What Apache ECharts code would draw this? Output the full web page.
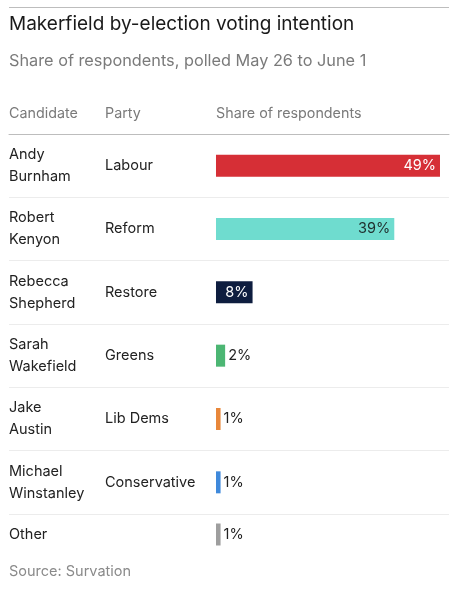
<!DOCTYPE html>
<html>
<head>
<meta charset="utf-8">
<script src="https://cdn.jsdelivr.net/npm/echarts@6/dist/echarts.min.js"></script>
<style>
html,body{margin:0;padding:0;background:#fff;}
#chart{width:458px;height:600px;}
</style>
</head>
<body>
<div id="chart"></div>
<script>
const candidates = ['Andy\nBurnham', 'Robert\nKenyon', 'Rebecca\nShepherd', 'Sarah\nWakefield', 'Jake\nAustin', 'Michael\nWinstanley', 'Other'];
const parties = ['Labour', 'Reform', 'Restore', 'Greens', 'Lib Dems', 'Conservative', ''];
const shares = [49, 39, 8, 2, 1, 1, 1];
const partyColors = ['#d62f36', '#6fdccf', '#0e1d3f', '#4cb673', '#e8873a', '#3f89db', '#9e9e9e'];
const labelColors = ['#ffffff', '#1f2d2d', '#ffffff', '#222222', '#222222', '#222222', '#222222'];
const columnHeaders = ['Candidate', 'Party', 'Share of respondents'];

const FONT = 'Inter';
const XMIN = -45.28, XMAX = 50.97;

function barData(start, end) {
  const out = [];
  for (let i = start; i < end; i++) {
    const big = shares[i] >= 5;
    out.push({
      value: shares[i],
      itemStyle: { color: partyColors[i] },
      label: {
        show: true,
        position: big ? 'insideRight' : 'right',
        distance: big ? 4 : 3,
        color: labelColors[i],
        fontSize: 14.5,
        fontFamily: FONT,
        formatter: '{c}%'
      }
    });
  }
  return out;
}

const nameLabel = { inside: true, margin: 0, align: 'left', color: '#222', fontSize: 14.5, lineHeight: 22, fontFamily: FONT };
const partyLabel = { inside: true, margin: 96, align: 'left', color: '#222', fontSize: 14.5, fontFamily: FONT };

const chart = echarts.init(document.getElementById('chart'));
chart.setOption({
  animation: false,
  backgroundColor: '#fff',
  title: [
    { text: 'Makerfield by-election voting intention', left: 9, top: 15, padding: 0,
      textStyle: { fontFamily: FONT, fontSize: 19, fontWeight: 'normal', color: '#1a1a1a' } },
    { text: 'Share of respondents, polled May 26 to June 1', left: 9, top: 53, padding: 0,
      textStyle: { fontFamily: FONT, fontSize: 16.3, fontWeight: 'normal', color: '#7a7a7a' } },
    { text: columnHeaders[0], left: 9, top: 107, padding: 0,
      textStyle: { fontFamily: FONT, fontSize: 14.3, fontWeight: 'normal', color: '#7a7a7a' } },
    { text: columnHeaders[1], left: 105, top: 107, padding: 0,
      textStyle: { fontFamily: FONT, fontSize: 14.3, fontWeight: 'normal', color: '#7a7a7a' } },
    { text: columnHeaders[2], left: 216, top: 107, padding: 0,
      textStyle: { fontFamily: FONT, fontSize: 14.3, fontWeight: 'normal', color: '#7a7a7a' } },
    { text: 'Source: Survation', left: 9, top: 564, padding: 0,
      textStyle: { fontFamily: FONT, fontSize: 14.5, fontWeight: 'normal', color: '#8a8a8a' } }
  ],
  graphic: [
    { type: 'line', shape: { x1: 9, y1: 7.5, x2: 449, y2: 7.5 }, style: { stroke: '#bdbdbd', lineWidth: 1 } }
  ],
  grid: [
    { left: 9, right: 9, top: 134, height: 380 },
    { left: 9, right: 9, top: 514, height: 41 }
  ],
  xAxis: [
    { gridIndex: 0, type: 'value', position: 'top', min: XMIN, max: XMAX,
      axisLine: { show: true, onZero: false, lineStyle: { color: '#bdbdbd', width: 1 } },
      axisTick: { show: false }, axisLabel: { show: false }, splitLine: { show: false } },
    { gridIndex: 1, type: 'value', min: XMIN, max: XMAX, show: false }
  ],
  yAxis: [
    { gridIndex: 0, type: 'category', position: 'left', inverse: true, data: candidates.slice(0, 6),
      axisLine: { show: false }, axisTick: { show: false }, axisLabel: nameLabel,
      splitLine: { show: true, showMinLine: false, showMaxLine: true, lineStyle: { color: '#ececec', width: 1 } } },
    { gridIndex: 0, type: 'category', position: 'left', offset: 0, inverse: true, data: parties.slice(0, 6),
      axisLine: { show: false }, axisTick: { show: false }, axisLabel: partyLabel, splitLine: { show: false } },
    { gridIndex: 1, type: 'category', position: 'left', inverse: true, data: candidates.slice(6),
      axisLine: { show: false }, axisTick: { show: false }, axisLabel: nameLabel, splitLine: { show: false } },
    { gridIndex: 1, type: 'category', position: 'left', offset: 0, inverse: true, data: parties.slice(6),
      axisLine: { show: false }, axisTick: { show: false }, axisLabel: partyLabel, splitLine: { show: false } }
  ],
  series: [
    { type: 'bar', xAxisIndex: 0, yAxisIndex: 0, barWidth: 22, data: barData(0, 6) },
    { type: 'bar', xAxisIndex: 1, yAxisIndex: 2, barWidth: 22, data: barData(6, 7) }
  ]
});
</script>
</body>
</html>
